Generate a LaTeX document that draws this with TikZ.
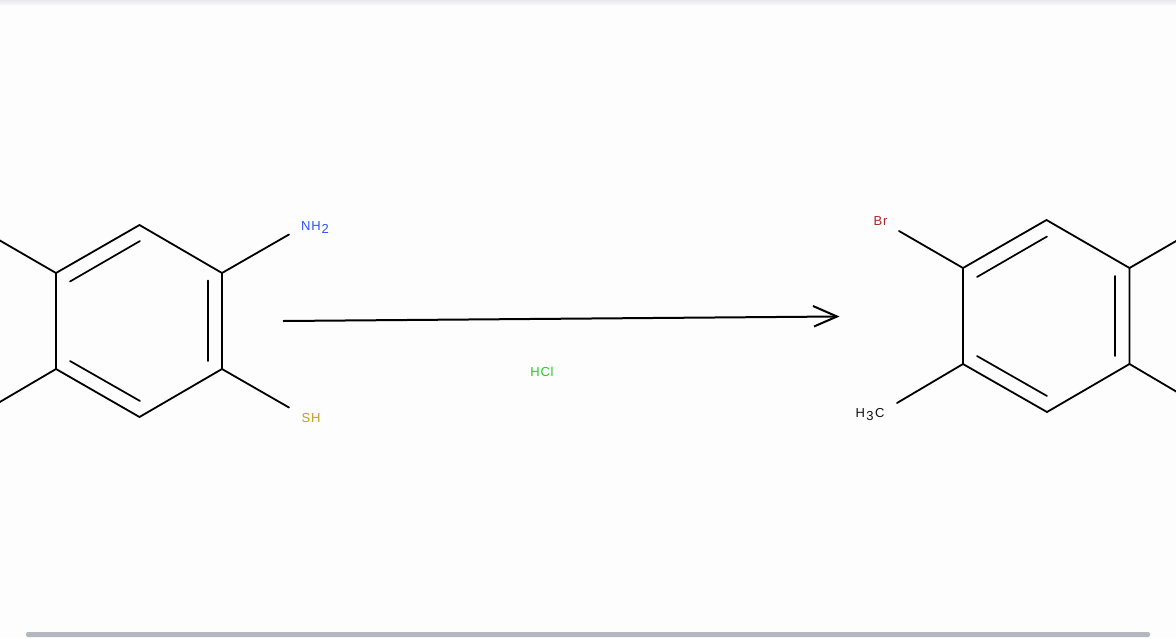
\documentclass[tikz,border=0pt]{standalone}
\usepackage{fontspec}
\setmainfont[LetterSpace=6]{Liberation Sans}
\definecolor{pagebg}{HTML}{FDFDFD}
\definecolor{topshade}{HTML}{E9E9EC}
\definecolor{barcol}{HTML}{B3B8BF}
\definecolor{nblue}{HTML}{3050FF}
\definecolor{sgold}{HTML}{CC9A1E}
\definecolor{brred}{HTML}{A62929}
\definecolor{clgreen}{HTML}{1FD01F}
\definecolor{cgrey}{HTML}{111111}
\newcommand{\subdown}[1]{\hspace{1pt}\raisebox{-2.6pt}{\fontsize{13pt}{14pt}\selectfont #1}}
\tikzset{
  bond/.style={draw=black,line width=1.8pt,line cap=round},
  inner bond/.style={draw=black,line width=1.7pt,line cap=round},
  rxn/.style={draw=black,line width=2pt},
  atom/.style={font=\fontsize{13pt}{14pt}\selectfont,inner sep=0pt,anchor=base}
}
\begin{document}
\begin{tikzpicture}[x=1pt,y=-1pt]
\useasboundingbox (0,0) rectangle (1176,638);
\fill[pagebg] (0,0) rectangle (1176,638);
\shade[top color=topshade,bottom color=pagebg] (0,0) rectangle (1176,6);
\fill[barcol,rounded corners=2pt] (26,632) rectangle (1150,637);
% left ring
\coordinate (a1) at (56,273);
\coordinate (a2) at (139.5,225);
\coordinate (a3) at (222,273);
\coordinate (a4) at (222,369);
\coordinate (a5) at (139.5,417);
\coordinate (a6) at (56,369);
\coordinate (a7) at (-1,240);
\coordinate (a8) at (-1,402.5);
\coordinate (a9) at (289,234.5);
\coordinate (a10) at (289,407.5);
\coordinate (ai1) at (70,281.5);
\coordinate (ai2) at (140,241);
\coordinate (ai3) at (208,280.5);
\coordinate (ai4) at (208,361);
\coordinate (ai5) at (70,361);
\coordinate (ai6) at (140,401);
\draw[bond] (a1)--(a2)--(a3)--(a4)--(a5)--(a6)--cycle;
\draw[bond] (a1)--(a7) (a6)--(a8) (a3)--(a9) (a4)--(a10);
\draw[inner bond] (ai1)--(ai2) (ai3)--(ai4) (ai5)--(ai6);
% right ring
\coordinate (b1) at (963,268);
\coordinate (b2) at (1046.5,220);
\coordinate (b3) at (1129.5,268);
\coordinate (b4) at (1129.5,364);
\coordinate (b5) at (1047,412);
\coordinate (b6) at (963,364);
\coordinate (b7) at (899,231);
\coordinate (b8) at (897,403);
\coordinate (b9) at (1177,240.5);
\coordinate (b10) at (1177,392);
\coordinate (bi1) at (977,277);
\coordinate (bi2) at (1047,236.5);
\coordinate (bi3) at (1115,276);
\coordinate (bi4) at (1115,356);
\coordinate (bi5) at (977,356);
\coordinate (bi6) at (1047,396);
\draw[bond] (b1)--(b2)--(b3)--(b4)--(b5)--(b6)--cycle;
\draw[bond] (b1)--(b7) (b6)--(b8) (b3)--(b9) (b4)--(b10);
\draw[inner bond] (bi1)--(bi2) (bi3)--(bi4) (bi5)--(bi6);
% reaction arrow
\coordinate (r1) at (283,321);
\coordinate (r2) at (837,316.5);
\coordinate (h1) at (813,306);
\coordinate (h2) at (814,326.5);
\draw[rxn] (r1)--(r2);
\draw[rxn,line join=miter] (h1)--(r2)--(h2);
% labels
\node[atom,text=nblue] (nh2) at (315,230.5) {NH\subdown{2}};
\node[atom,text=sgold] (sh) at (311,422) {SH};
\node[atom,text=clgreen] (hcl) at (542,376) {HCl};
\node[atom,text=brred] (br) at (880.5,225) {Br};
\node[atom,text=cgrey] (h3c) at (870,417.5) {H\hspace{0.5pt}\subdown{3}\hspace{1.5pt}C};
\end{tikzpicture}
\end{document}
